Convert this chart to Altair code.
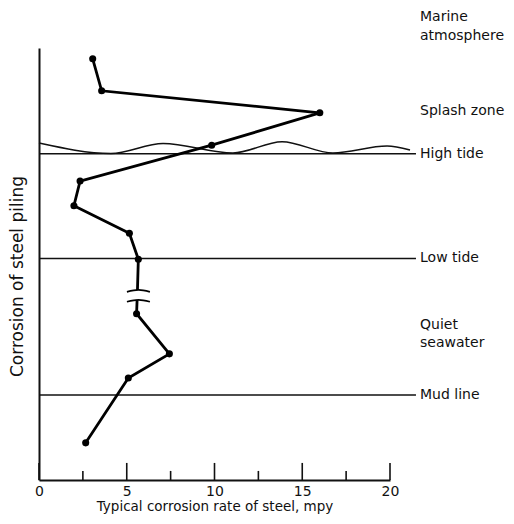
import altair as alt
import pandas as pd

# ---- data ----
# corrosion rate (mpy) at positions along the piling (0 = bottom of plot, 100 = top)
rate = [3.06, 3.57, 16.0, 9.84, 2.34, 1.99, 5.15, 5.66, 5.56, 7.43, 5.09, 2.66]
level = [97.5, 90.1, 85.0, 77.5, 69.2, 63.5, 57.1, 51.1, 38.5, 29.2, 23.6, 8.6]
# the curve is broken between the 8th and 9th points
break_top = [5.61, 44.0]
break_bottom = [5.59, 41.7]

zone_lines = ["High tide", "Low tide", "Mud line"]
zone_level = [75.5, 51.3, 19.7]

wave_x = [0.0, 4.1, 7.07, 11.05, 13.85, 16.75, 19.83, 21.14]
wave_y = [78.0, 75.6, 77.9, 75.7, 78.3, 75.7, 77.3, 76.4]

side_labels = ["Marine", "atmosphere", "Splash zone", "High tide", "Low tide",
               "Quiet", "seawater", "Mud line"]
side_level = [107.2, 102.8, 85.4, 75.5, 51.4, 35.9, 31.7, 19.7]

major_ticks = [0, 5, 10, 15, 20]
minor_ticks = [2.5, 7.5, 12.5, 17.5]

FONT = "DejaVu Sans"
INK = "#111111"

xscale = alt.Scale(domain=[0, 20], nice=False, zero=False)
yscale = alt.Scale(domain=[0, 100], nice=False, zero=False)

X = alt.X("x:Q", scale=xscale,
          axis=alt.Axis(values=major_ticks, ticks=False, grid=False, domain=True,
                        domainColor=INK, domainWidth=2, labelFont=FONT, labelFontSize=14,
                        labelColor=INK, labelPadding=4, labelFlush=False,
                        title="Typical corrosion rate of steel, mpy", titleFont=FONT,
                        titleFontSize=13.5, titleFontWeight="normal", titleColor=INK,
                        titlePadding=1))
Y = alt.Y("y:Q", scale=yscale,
          axis=alt.Axis(labels=False, ticks=False, grid=False, domain=True,
                        domainColor=INK, domainWidth=2,
                        title="Corrosion of steel piling", titleFont=FONT,
                        titleFontSize=17, titleFontWeight="normal", titleColor=INK,
                        titlePadding=13, titleY=228, titleAlign="center"))

# line segments
seg_x = rate[:8] + [break_top[0]] + [break_bottom[0]] + rate[8:]
seg_y = level[:8] + [break_top[1]] + [break_bottom[1]] + level[8:]
seg_id = ["a"] * 9 + ["b"] * 5
seg_ord = list(range(len(seg_x)))
line_df = pd.DataFrame({"x": seg_x, "y": seg_y, "seg": seg_id, "o": seg_ord})

pts_df = pd.DataFrame({"x": rate, "y": level})

hl_df = pd.DataFrame({"x": [0] * 3, "x2": [21.48] * 3, "y": zone_level, "name": zone_lines})

wave_df = pd.DataFrame({"x": wave_x, "y": wave_y, "o": list(range(len(wave_x)))})

# break marks: small arcs across the curve
bx = [5.01, 5.67, 6.32]
brk_df = pd.DataFrame({
    "x": bx + bx,
    "y": [break_top[1] - 0.45, break_top[1], break_top[1] - 0.45,
          break_bottom[1] - 0.45, break_bottom[1], break_bottom[1] - 0.45],
    "m": ["t"] * 3 + ["b"] * 3,
    "o": list(range(6)),
})

tick_df = pd.DataFrame({
    "x": major_ticks + minor_ticks,
    "y": [0] * 9,
    "y2": [3.95] * 5 + [2.1] * 4,
})

lab_df = pd.DataFrame({"x": [21.71] * len(side_labels), "y": side_level, "t": side_labels})

hlines = alt.Chart(hl_df).mark_rule(color=INK, strokeWidth=1.5).encode(x=X, x2="x2:Q", y=Y)
wave = alt.Chart(wave_df).mark_line(color=INK, strokeWidth=1.5, interpolate="monotone").encode(
    x=X, y=Y, order="o:Q")
curve = alt.Chart(line_df).mark_line(color="#000000", strokeWidth=2.8).encode(
    x=X, y=Y, detail="seg:N", order="o:Q")
brks = alt.Chart(brk_df).mark_line(color="#000000", strokeWidth=1.6, interpolate="monotone").encode(
    x=X, y=Y, detail="m:N", order="o:Q")
points = alt.Chart(pts_df).mark_circle(color="#000000", size=50, opacity=1).encode(x=X, y=Y)
ticks = alt.Chart(tick_df).mark_rule(color=INK, strokeWidth=1.6).encode(x=X, y=Y, y2="y2:Q")
labels = alt.Chart(lab_df).mark_text(align="left", baseline="middle", font=FONT,
                                     fontSize=14, color=INK).encode(x=X, y=Y, text="t:N")

chart = alt.layer(hlines, wave, curve, brks, points, ticks, labels).properties(
    width=351, height=432,
    autosize=alt.AutoSizeParams(type="none"),
    padding={"left": 31, "top": 40, "right": 116, "bottom": 36},
    background="white",
).configure_view(stroke=None)

chart.save("out.html", embed_options={"renderer": "svg", "actions": False})
